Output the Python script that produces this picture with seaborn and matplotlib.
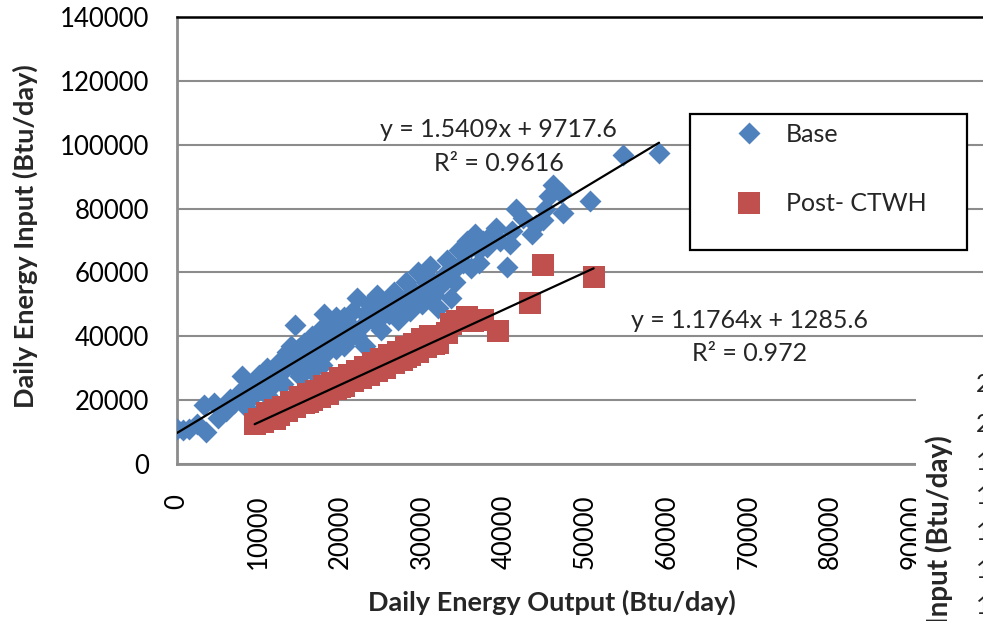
import numpy as np
import pandas as pd
import seaborn as sns
import matplotlib.pyplot as plt
from matplotlib.patches import Rectangle

# values
base_x = [0, 700, 1500, 3500, 3300, 4500, 5500, 6500, 6000, 7500,
          8000, 8500, 9000, 9500, 10000, 10500, 11000, 11500, 12000, 12500,
          13000, 13500, 14000, 14500, 14800, 15000, 15500, 16000, 16500, 17000,
          17500, 17800, 18000, 18500, 19000, 19500, 20000, 20500, 21000, 21500,
          22000, 22500, 23000, 23500, 24000, 24500, 25000, 25500, 26000, 26500,
          27000, 27500, 28000, 28500, 29000, 29500, 30000, 30500, 31000, 31500,
          32000, 32500, 33000, 33500, 34000, 34500, 35000, 35500, 36000, 36500,
          37000, 37500, 38500, 39500, 40400, 40800, 41500, 42300, 43500, 44000,
          44800, 45500, 46000, 47000, 47300, 50500, 54600, 59000,
          2500, 5000, 7000, 8500, 9500, 10500, 11000, 12000, 13000, 13500,
          14000, 15000, 15500, 16000, 16500, 17000, 18000, 19000, 19500, 20500,
          21000, 22000, 23000, 24000, 25000, 26000, 27000, 28000, 29000, 30000,
          31000, 32000, 33000, 34000, 35000, 36000, 37000, 38000, 39000, 41000,
          45000]
base_y = [11000, 10500, 11000, 10000, 18500, 19000, 17500, 20500, 16500, 22000,
          27500, 24000, 21000, 26000, 28000, 23000, 30000, 27000, 25500, 32000,
          29000, 35000, 31000, 43500, 36000, 27500, 38000, 33000, 40000, 35000,
          42000, 31000, 47000, 38000, 44000, 36000, 41000, 46000, 39000, 48000,
          52000, 43000, 37000, 50000, 45000, 53000, 42000, 49000, 47000, 54000,
          45000, 51000, 57000, 48000, 54000, 60000, 50000, 57000, 62000, 53000,
          49000, 59000, 64000, 52000, 61000, 67000, 63000, 70000, 61500, 72000,
          67000, 70000, 72000, 70000, 61700, 69000, 80000, 77000, 72000, 75000,
          76500, 84000, 87500, 85000, 78500, 82500, 96700, 97500,
          12500, 14500, 19000, 18000, 22000, 26500, 21500, 29000, 25000, 31500,
          37000, 34000, 30000, 37500, 29000, 39000, 34000, 40000, 46000, 37000,
          44000, 40000, 47000, 50000, 46000, 51000, 49000, 52000, 50000, 54000,
          58000, 55000, 58000, 57000, 66000, 68000, 63000, 68000, 74000, 73000,
          80000]

post_x = [9500, 10000, 10500, 11000, 11500, 12000, 12500, 13000, 13500, 14000,
          14500, 15000, 15500, 16000, 16500, 17000, 17500, 18000, 18500, 19000,
          19500, 20000, 20500, 21000, 21500, 22000, 22500, 23000, 23500, 24000,
          24500, 25000, 25500, 26000, 26500, 27000, 27500, 28000, 28500, 29000,
          29500, 30000, 30500, 31000, 32000, 33000, 33500, 34300, 35500, 36200,
          37500, 39300, 43200, 44800, 51000,
          12000, 16000, 20000, 24000, 28000, 31500]
post_y = [12500, 14000, 13000, 16000, 14500, 17000, 15500, 18000, 16500, 19500,
          18000, 21000, 19000, 22000, 20000, 23000, 21000, 24500, 22000, 25500,
          23500, 27000, 24500, 28000, 26000, 29000, 27000, 30500, 28000, 31500,
          29000, 33000, 30000, 34000, 31500, 35000, 32500, 36500, 34000, 37500,
          35000, 39000, 36500, 40000, 38000, 41000, 44000, 44800, 46000, 44800,
          45000, 41500, 50500, 62300, 58500,
          14000, 19500, 24000, 29000, 33500, 37500]

base_fit = (1.5409, 9717.6)
post_fit = (1.1764, 1285.6)

x_ticks = list(range(0, 90001, 10000))
y_ticks = list(range(0, 140001, 20000))

blue = "#4F81BD"
red = "#C0504D"
grid_gray = "#8C8C8C"

base_df = pd.DataFrame({"x": base_x, "y": base_y})
post_df = pd.DataFrame({"x": post_x, "y": post_y})

sns.set_theme(style="white")
plt.rcParams['font.family'] = ['Lato', 'DejaVu Sans']

fig = plt.figure(figsize=(9.83, 6.21), dpi=100)
ax = fig.add_axes([177 / 983, 157 / 621, 817 / 983, 447 / 621])

sns.scatterplot(data=base_df, x="x", y="y", marker="D", s=125, color=blue,
                linewidth=0, label="Base", ax=ax, zorder=3)
sns.scatterplot(data=post_df, x="x", y="y", marker="s", s=229, color=red,
                linewidth=0, label="Post- CTWH", ax=ax, zorder=4)

# trendlines from the printed equations
for xs, (m, b) in [(base_x, base_fit), (post_x, post_fit)]:
    xx = np.array([min(xs), max(xs)])
    ax.plot(xx, m * xx + b, color="black", lw=1.6, zorder=5)

ax.set_xlim(0, 100000)
ax.set_ylim(0, 140000)
ax.set_xticks(x_ticks)
ax.set_yticks(y_ticks)
ax.set_xticklabels([str(t) for t in x_ticks], rotation=90)
ax.set_yticklabels([str(t) for t in y_ticks])
ax.tick_params(axis="both", direction="out", length=5, width=1.5,
               color=grid_gray, labelsize=18.5, labelcolor="black")
ax.tick_params(axis="x", pad=17)
ax.tick_params(axis="y", pad=15)
ax.grid(True, axis="y", color=grid_gray, lw=1.5)
ax.grid(False, axis="x")
ax.set_axisbelow(True)

for side in ["left", "bottom"]:
    ax.spines[side].set_color(grid_gray)
    ax.spines[side].set_linewidth(2)
ax.spines["top"].set_color("black")
ax.spines["top"].set_linewidth(1.8)
ax.spines["right"].set_visible(False)

ax.set_xlabel("Daily Energy Output (Btu/day)", fontsize=19.5, fontweight="bold")
ax.set_ylabel("Daily Energy Input (Btu/day)", fontsize=19.5, fontweight="bold")
ax.xaxis.set_label_coords((552 - 177) / 817, (464 - 590) / 447)
ax.yaxis.set_label_coords((38 - 177) / 817, 0.51)

ax.text(39400, 99500, f"y = {base_fit[0]}x + {base_fit[1]}\nR² = 0.9616",
        ha="center", va="center", fontsize=18, linespacing=1.55, zorder=6)
ax.text(70130, 39800, f"y = {post_fit[0]}x + {post_fit[1]}\nR² = 0.972",
        ha="center", va="center", fontsize=18, linespacing=1.55, zorder=6)

# legend box
handles, labels = ax.get_legend_handles_labels()
ax.get_legend().remove()
fig.patches.append(Rectangle((690 / 983, 1 - 250 / 621), 277 / 983, 136 / 621,
                             transform=fig.transFigure, facecolor="white",
                             edgecolor="black", lw=1.6, zorder=8))
leg = fig.legend(handles, labels, loc="upper left",
                 bbox_to_anchor=(729 / 983, 1 - 123 / 621), frameon=False,
                 fontsize=18, borderpad=0, borderaxespad=0, handlelength=1.6,
                 handletextpad=0.68, labelspacing=1.85, scatteryoffsets=[0.5])
leg.set_zorder(9)

# part of the neighbouring chart that overlaps the lower right corner
fig.patches.append(Rectangle((916 / 983, 0), 1 - 916 / 983, 1 - 362 / 621,
                             transform=fig.transFigure, facecolor="white",
                             edgecolor="none", zorder=8))
fig.text(939 / 983, 1 - 435 / 621, "Daily Energy Input (Btu/day)", rotation=90,
         ha="center", va="top", fontsize=20, fontweight="bold", zorder=9)
for ch, py in zip(["2", "2", "1", "1", "1", "1", "1"],
                  [385, 425, 462, 497, 533, 570, 607]):
    fig.text(976 / 983, 1 - py / 621, ch, ha="left", va="center",
             fontsize=18, zorder=9)

fig.savefig("out.png", dpi=100)
